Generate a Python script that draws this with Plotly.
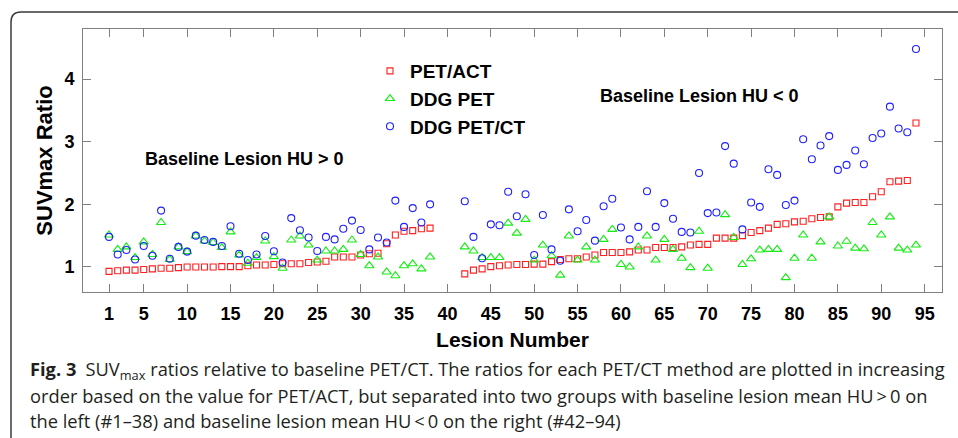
import plotly.graph_objects as go

# ---------------- data ----------------
lesion_left = list(range(1, 39))
lesion_right = list(range(42, 95))
lesion = lesion_left + lesion_right

pet_act = [
    0.93, 0.94, 0.95, 0.95, 0.96, 0.97, 0.98, 0.98, 0.99, 1.00,
    1.00, 1.00, 1.00, 1.005, 1.005, 1.005, 1.02, 1.03, 1.03, 1.04,
    1.05, 1.05, 1.05, 1.07, 1.08, 1.09, 1.16, 1.16, 1.16, 1.19,
    1.21, 1.22, 1.37, 1.51, 1.57, 1.58, 1.61, 1.62,
    0.89, 0.95, 0.97, 1.005, 1.02, 1.03, 1.04, 1.04, 1.045, 1.045,
    1.085, 1.12, 1.13, 1.13, 1.16, 1.19, 1.23, 1.23, 1.23, 1.24,
    1.27, 1.27, 1.31, 1.31, 1.31, 1.32, 1.35, 1.36, 1.36, 1.46,
    1.46, 1.46, 1.50, 1.55, 1.58, 1.62, 1.68, 1.69, 1.72, 1.73,
    1.77, 1.79, 1.80, 1.96, 2.02, 2.03, 2.03, 2.12, 2.20, 2.36,
    2.37, 2.38, 3.30,
]

ddg_pet = [
    1.51, 1.28, 1.32, 1.15, 1.40, 1.20, 1.71, 1.12, 1.32, 1.245,
    1.495, 1.415, 1.39, 1.31, 1.56, 1.19, 1.06, 1.15, 1.415, 1.165,
    0.98, 1.43, 1.495, 1.35, 1.11, 1.255, 1.255, 1.28, 1.43, 1.20,
    1.02, 1.16, 0.92, 0.86, 1.02, 1.05, 0.97, 1.16,
    1.32, 1.255, 1.15, 1.15, 1.15, 1.70, 1.54, 1.76, 1.11, 1.35,
    1.18, 0.87, 1.495, 1.11, 1.32, 1.11, 1.44, 1.60, 1.04, 1.00,
    1.32, 1.495, 1.11, 1.44, 1.28, 1.14, 0.99, 1.57, 0.98, None,
    1.835, 1.47, 1.04, 1.13, 1.27, 1.28, 1.28, 0.83, 1.14, 1.51,
    1.14, 1.40, 1.80, 1.335, 1.41, 1.30, 1.29, 1.71, 1.51, 1.80,
    1.30, 1.27, 1.35,
]

ddg_petct = [
    1.48, 1.20, 1.27, 1.12, 1.335, 1.18, 1.90, 1.13, 1.32, 1.245,
    1.50, 1.43, 1.40, 1.335, 1.65, 1.21, 1.11, 1.20, 1.495, 1.25,
    1.07, 1.78, 1.585, 1.47, 1.255, 1.48, 1.44, 1.61, 1.74, 1.59,
    1.28, 1.47, 1.39, 2.06, 1.64, 1.94, 1.71, 2.00,
    2.05, 1.48, 1.14, 1.68, 1.665, 2.20, 1.81, 2.16, 1.19, 1.83,
    1.28, 1.10, 1.92, 1.57, 1.75, 1.42, 1.97, 2.09, 1.63, 1.44,
    1.64, 2.21, 1.64, 2.02, 1.77, 1.56, 1.55, 2.50, 1.86, 1.87,
    2.93, 2.65, 1.60, 2.03, 1.96, 2.56, 2.47, 1.99, 2.06, 3.04,
    2.72, 2.94, 3.09, 2.55, 2.63, 2.86, 2.64, 3.06, 3.13, 3.56,
    3.21, 3.15, 4.48,
]

x_ticks = [1, 5, 10, 15, 20, 25, 30, 35, 40, 45, 50, 55, 60, 65, 70, 75, 80, 85, 90, 95]
y_ticks = [1, 2, 3, 4]

caption_lines = [
    "<b>Fig. 3</b>\u2002SUV<sub>max</sub> ratios relative to baseline PET/CT. The ratios for each PET/CT method are plotted in increasing",
    "order based on the value for PET/ACT, but separated into two groups with baseline lesion mean HU\u2009>\u20090 on",
    "the left (#1\u201338) and baseline lesion mean HU\u2009<\u20090 on the right (#42\u201394)",
]

# ---------------- layout geometry (pixels) ----------------
W, H = 958, 438
L, R, T, B = 83, 942, 29, 292


def pxx(px):
    return (px - L) / (R - L)


def pxy(py):
    return (B - py) / (B - T)


BOLD = dict(family="Liberation Sans, Arial, sans-serif", color="black", weight="bold")

fig = go.Figure()
fig.add_trace(go.Scatter(
    x=lesion, y=pet_act, mode="markers", name="PET/ACT",
    marker=dict(symbol="square-open", size=6, color="#ff2020", line=dict(width=1.1)),
))
fig.add_trace(go.Scatter(
    x=lesion, y=ddg_pet, mode="markers", name="DDG PET",
    marker=dict(symbol="triangle-up-open", size=8, color="#10ee10", line=dict(width=1.1)),
))
fig.add_trace(go.Scatter(
    x=lesion, y=ddg_petct, mode="markers", name="DDG PET/CT",
    marker=dict(symbol="circle-open", size=7, color="#2020ff", line=dict(width=1.1)),
))

axis_common = dict(
    showline=True, linecolor="#808080", linewidth=1, mirror="ticks",
    ticks="inside", ticklen=8, tickcolor="#808080", tickwidth=1,
    showgrid=False, zeroline=False,
    tickfont=dict(size=18, **BOLD),
)

fig.update_xaxes(
    range=[-2, 97], tickvals=x_ticks, ticklabelstandoff=5,
    title=dict(text="Lesion Number", font=dict(size=21, **BOLD), standoff=9),
    **axis_common,
)
fig.update_yaxes(
    range=[0.6, 4.8], tickvals=y_ticks, ticklabelstandoff=4,
    title=dict(text="SUVmax Ratio", font=dict(size=22, **BOLD), standoff=5),
    **axis_common,
)

annotations = [
    dict(x=16.6, y=2.73, xref="x", yref="y", text="Baseline Lesion HU > 0",
         showarrow=False, font=dict(size=18, **BOLD)),
    dict(x=69.0, y=3.73, xref="x", yref="y", text="Baseline Lesion HU < 0",
         showarrow=False, font=dict(size=18, **BOLD)),
]
for line, cy in zip(caption_lines, [370, 395, 420]):
    annotations.append(dict(
        x=pxx(28), y=pxy(cy), xref="paper", yref="paper", xanchor="left", yanchor="middle",
        text=line, showarrow=False, align="left",
        font=dict(family="Open Sans, sans-serif", size=18.3, color="#231f20"),
    ))

# outer rounded frame of the figure panel
r = 10
path = (
    f"M {pxx(11)} {pxy(H + 5)} L {pxx(11)} {pxy(12 + r)} "
    f"Q {pxx(11)} {pxy(12)} {pxx(11 + r)} {pxy(12)} L {pxx(W + 5)} {pxy(12)}"
)

fig.update_layout(
    width=W, height=H,
    margin=dict(l=L, r=W - R, t=T, b=H - B),
    paper_bgcolor="white", plot_bgcolor="white",
    showlegend=True,
    legend=dict(
        x=pxx(370), y=pxy(52), xanchor="left", yanchor="top",
        bgcolor="rgba(0,0,0,0)", borderwidth=0,
        font=dict(size=19, **BOLD), tracegroupgap=0, itemwidth=30,
    ),
    annotations=annotations,
    shapes=[dict(type="path", path=path, xref="paper", yref="paper",
                 line=dict(color="#3a3a3a", width=1.5), layer="above")],
)

fig.write_html("out.html")
